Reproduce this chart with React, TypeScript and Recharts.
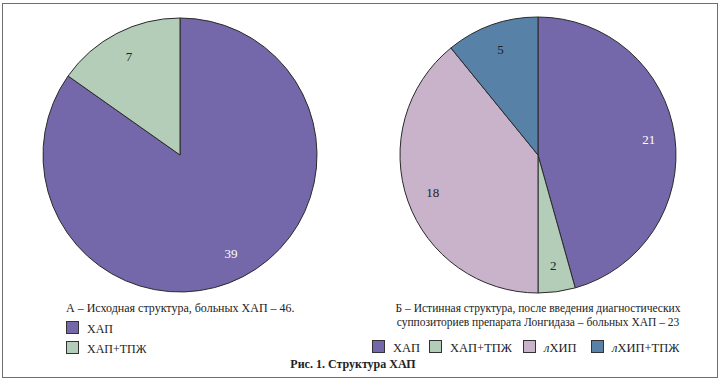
import { PieChart, Pie, Cell } from "recharts";

// chart A – initial structure
const namesA = ["ХАП", "ХАП+ТПЖ"];
const valuesA = [39, 7];
const colorsA = ["#7468AA", "#B3CDB8"];

// chart B – true structure
const namesB = ["ХАП", "ХАП+ТПЖ", "лХИП", "лХИП+ТПЖ"];
const valuesB = [21, 2, 18, 5];
const colorsB = ["#7468AA", "#B3CDB8", "#C9B3CB", "#5781A6"];

const titleA = "А – Исходная структура, больных ХАП – 46.";
const titleB1 = "Б – Истинная структура, после введения диагностических";
const titleB2 = "суппозиториев препарата Лонгидаза – больных ХАП – 23";
const caption = "Рис. 1. Структура ХАП";

const dataA = namesA.map((name, i) => ({ name, value: valuesA[i] }));
const dataB = namesB.map((name, i) => ({ name, value: valuesB[i] }));

const RADIAN = Math.PI / 180;
const FONT = "\"Liberation Serif\", \"Times New Roman\", \"DejaVu Serif\", serif";

function makeLabel(colors: string[]) {
  return (props: any) => {
    const { cx, cy, midAngle, outerRadius, value, index } = props;
    const r = outerRadius * 0.81;
    const x = cx + r * Math.cos(-midAngle * RADIAN);
    const y = cy + r * Math.sin(-midAngle * RADIAN);
    const dark = colors[index] === "#7468AA";
    return (
      <text x={x} y={y} fill={dark ? "#ffffff" : "#222"} fontSize={13} fontFamily="Liberation Serif"
        textAnchor="middle" dominantBaseline="central">
        {value}
      </text>
    );
  };
}

function LegendName({ name }: { name: string }) {
  if (name.startsWith("л")) {
    return <span><i>л</i>{name.slice(1)}</span>;
  }
  return <span>{name}</span>;
}

function Swatch({ color }: { color: string }) {
  return (
    <span style={{
      display: "inline-block", width: 11, height: 11, background: color,
      border: "1px solid #333", marginRight: 8, verticalAlign: "-1px",
    }} />
  );
}

// x of each legend B item
const legendBLeft = [372, 429, 523, 591];

export default function App() {
  return (
    <div style={{ position: "absolute", left: 0, top: 0, width: 720, height: 389, background: "#fff", fontFamily: FONT, color: "#222" }}>
      {/* frame */}
      <div style={{ position: "absolute", left: 2, top: 3, width: 714, height: 373, border: "1.5px solid #6e6e6e" }} />

      <div style={{ position: "absolute", left: 0, top: 0 }}>
        <PieChart width={720} height={300} margin={{ top: 0, right: 0, bottom: 0, left: 0 }}>
          <Pie data={dataA} dataKey="value" nameKey="name" cx={180} cy={155} outerRadius={137}
            startAngle={90} endAngle={-270} stroke="#2a2a2a" strokeWidth={1}
            label={makeLabel(colorsA)} labelLine={false} isAnimationActive={false}>
            {dataA.map((d, i) => <Cell key={d.name} fill={colorsA[i]} />)}
          </Pie>
          <Pie data={dataB} dataKey="value" nameKey="name" cx={538} cy={155} outerRadius={138}
            startAngle={90} endAngle={-270} stroke="#2a2a2a" strokeWidth={1}
            label={makeLabel(colorsB)} labelLine={false} isAnimationActive={false}>
            {dataB.map((d, i) => <Cell key={d.name} fill={colorsB[i]} />)}
          </Pie>
        </PieChart>
      </div>

      {/* legend A */}
      <div style={{ position: "absolute", left: 66, top: 301, fontSize: 12, lineHeight: "14px" }}>
        <div style={{ marginBottom: 6 }}>{titleA}</div>
        {namesA.map((n, i) => (
          <div key={n} style={{ height: 20 }}>
            <Swatch color={colorsA[i]} /><LegendName name={n} />
          </div>
        ))}
      </div>

      {/* legend B */}
      <div style={{ position: "absolute", left: 368, width: 340, top: 301, fontSize: 11.5, lineHeight: "14px", textAlign: "center" }}>
        <div>{titleB1}</div>
        <div>{titleB2}</div>
      </div>
      {namesB.map((n, i) => (
        <div key={n} style={{ position: "absolute", left: legendBLeft[i], top: 340, fontSize: 12.5, lineHeight: "14px", whiteSpace: "nowrap" }}>
          <Swatch color={colorsB[i]} /><LegendName name={n} />
        </div>
      ))}

      {/* caption */}
      <div style={{ position: "absolute", left: 0, width: 706, top: 357, textAlign: "center", fontSize: 12, fontWeight: "bold" }}>
        {caption}
      </div>
    </div>
  );
}
